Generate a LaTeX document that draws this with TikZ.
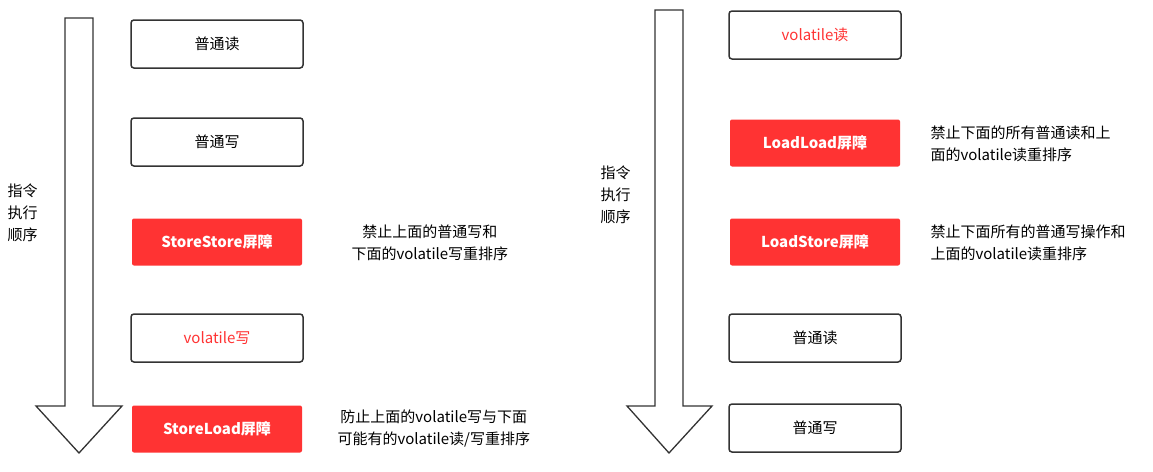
\documentclass[tikz,border=0pt]{standalone}
\usepackage{fontspec}
\setmainfont{Noto Sans CJK SC}
\definecolor{rd}{HTML}{FF3333}
\begin{document}
\begin{tikzpicture}[x=1pt,y=-1pt,
 box/.style={draw=black!80,line width=1.5pt,rounded corners=3pt,minimum width=172pt,minimum height=48pt,font=\fontsize{15}{18}\selectfont,inner sep=0pt},
 rbox/.style={fill=rd,rounded corners=2pt,minimum width=170pt,minimum height=47pt,text=white,font=\fontsize{15}{18}\selectfont\bfseries,inner sep=0pt},
 lab/.style={align=left,anchor=west,font=\fontsize{15}{22}\selectfont},
 arr/.style={draw=black!80,line width=1.3pt,fill=white}]
\useasboundingbox (0,0) rectangle (1153,471);
\draw[arr] (65,18) -- (93,18) -- (93,406) -- (122,406) -- (79,453) -- (36,406) -- (65,406) -- cycle;
\draw[arr] (655,10) -- (683,10) -- (683,406) -- (712,406) -- (669,453) -- (627,406) -- (655,406) -- cycle;
\node[lab,align=center,anchor=north west] (o1) at (4,180) {指令\\执行\\顺序};
\node[lab,align=center,anchor=north west] (o2) at (597,162) {指令\\执行\\顺序};
\node[box] (a1) at (217,44) {普通读};
\node[box] (a2) at (217,142) {普通写};
\node[rbox] (a3) at (217,242) {StoreStore屏障};
\node[box,text=rd] (a4) at (217,338) {volatile写};
\node[rbox] (a5) at (217,429) {StoreLoad屏障};
\node[box,text=rd] (b1) at (815,35) {volatile读};
\node[rbox] (b2) at (815,143) {LoadLoad屏障};
\node[rbox] (b3) at (815,242) {LoadStore屏障};
\node[box] (b4) at (815,338) {普通读};
\node[box] (b5) at (815,428) {普通写};
\node[lab,align=center] (t1) at (348,243) {禁止上面的普通写和\\下面的volatile写重排序};
\node[lab,align=center] (t2) at (334,429) {防止上面的volatile写与下面\\可能有的volatile读/写重排序};
\node[lab] (t3) at (927,144) {禁止下面的所有普通读和上\\面的volatile读重排序};
\node[lab] (t4) at (927,243) {禁止下面所有的普通写操作和\\上面的volatile读重排序};
\end{tikzpicture}
\end{document}
